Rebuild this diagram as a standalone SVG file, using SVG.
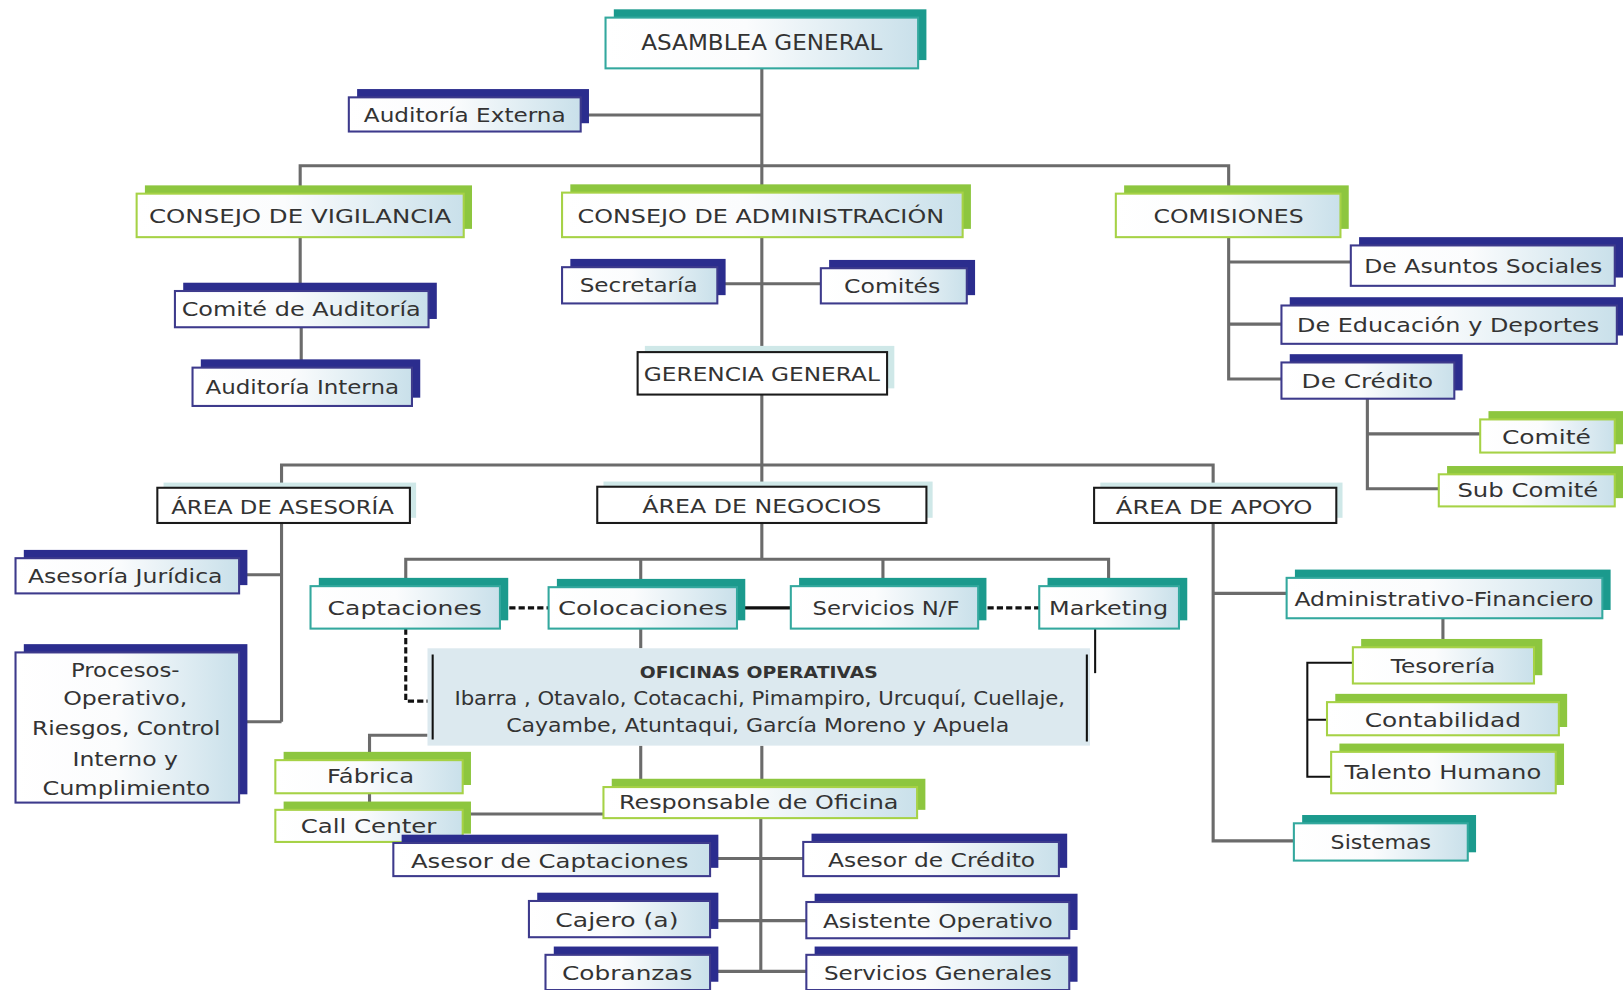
<svg xmlns="http://www.w3.org/2000/svg" width="1623" height="990" viewBox="0 0 1623 990">
<defs>
<linearGradient id="gf" x1="0" y1="0" x2="1" y2="0">
<stop offset="0" stop-color="#ffffff"/><stop offset="0.45" stop-color="#fbfcfd"/><stop offset="1" stop-color="#c9e0ea"/>
</linearGradient>
<style>
.sh-navy{fill:#2b2d8e}
.sh-green{fill:#8dc63f}
.sh-teal{fill:#1b9a8d}
.sh-area{fill:#cfe8e8}
.fr{fill:url(#gf);stroke-width:2}
.fr-navy{stroke:#3d3a8c}
.fr-green{stroke:#a6d246}
.fr-teal{stroke:#33a89e}
.fr-area{fill:#ffffff;stroke:#1a1a1a;stroke-width:2}
text{font-family:"DejaVu Sans","Liberation Sans",sans-serif;fill:#333333;text-anchor:middle;font-size:19px}
.big{font-size:20px}
.bold{font-weight:bold;font-size:16px}
.ln{fill:none;stroke:#6b6b6b;stroke-width:3}
.blk{fill:none;stroke:#111111;stroke-width:3}
.thin{fill:none;stroke:#111111;stroke-width:2}
.dash{fill:none;stroke:#111111;stroke-width:3;stroke-dasharray:6 3}
</style>
</defs>
<rect width="1623" height="990" fill="#ffffff"/>
<g transform="scale(1.0351,1.0356)">
<g id="connectors">
<path class="ln" d="M736 66 V186"/>
<path class="ln" d="M561 111 H736"/>
<path class="ln" d="M290 186 V160 H1187 V187"/>
<path class="ln" d="M290 229 V281 M291 316 V355"/>
<path class="ln" d="M736 229 V340 M693 274 H793"/>
<path class="ln" d="M736 381 V470 M272 471 V449 H1172 V471"/>
<path class="ln" d="M272 505 V697 M231 555 H272 M231 697 H272"/>
<path class="ln" d="M736 505 V540 M392 566 V540 H1071 V566 M619 540 V567 M853 540 V566"/>
<path class="ln" d="M1187 229 V366 H1238 M1187 253 H1305 M1187 313 H1238"/>
<path class="ln" d="M1321 385 V472 H1390 M1321 419 H1430"/>
<path class="ln" d="M1172 505 V812 H1250 M1172 573 H1243"/>
<path class="ln" d="M1394 597 V625"/>
<path class="thin" d="M1307 640 H1263 V750 H1286 M1263 695 H1282"/>
<path class="ln" d="M619 607 V626"/>
<path class="ln" d="M619 720 V760 M736 720 V760"/>
<path class="ln" d="M413 710 H357 V734 M357 766 V782"/>
<path class="ln" d="M447 786 H583"/>
<path class="ln" d="M735 790 V938"/>
<path class="ln" d="M686 829 H776 M686 889 H779 M686 938 H779"/>
<path class="thin" d="M1058 607 V650"/>
<path class="dash" d="M483 587 H530 M945 587 H1004 M392 607 V677 H418"/>
<path class="blk" d="M712 587 H764"/>
</g>

<g id="n-asamblea"><rect class="sh-teal" x="593" y="9" width="302" height="49"/><rect class="fr fr-teal" x="585" y="17" width="302" height="49"/><text class="big" x="736" y="48" textLength="233" lengthAdjust="spacingAndGlyphs">ASAMBLEA GENERAL</text></g>
<g id="n-auditoria-externa"><rect class="sh-navy" x="345" y="86" width="224" height="33"/><rect class="fr fr-navy" x="337" y="94" width="224" height="33"/><text x="449" y="118" textLength="195" lengthAdjust="spacingAndGlyphs">Auditoría Externa</text></g>
<g id="n-vigilancia"><rect class="sh-green" x="140" y="179" width="316" height="42"/><rect class="fr fr-green" x="132" y="187" width="316" height="42"/><text x="290" y="215" textLength="292" lengthAdjust="spacingAndGlyphs">CONSEJO DE VIGILANCIA</text></g>
<g id="n-administracion"><rect class="sh-green" x="551" y="178" width="387" height="43"/><rect class="fr fr-green" x="543" y="186" width="387" height="43"/><text x="735" y="215" textLength="354" lengthAdjust="spacingAndGlyphs">CONSEJO DE ADMINISTRACIÓN</text></g>
<g id="n-comisiones"><rect class="sh-green" x="1086" y="179" width="217" height="42"/><rect class="fr fr-green" x="1078" y="187" width="217" height="42"/><text x="1187" y="215" textLength="145" lengthAdjust="spacingAndGlyphs">COMISIONES</text></g>
<g id="n-comite-auditoria"><rect class="sh-navy" x="177" y="273" width="245" height="35"/><rect class="fr fr-navy" x="169" y="281" width="245" height="35"/><text x="291" y="305" textLength="231" lengthAdjust="spacingAndGlyphs">Comité de Auditoría</text></g>
<g id="n-auditoria-interna"><rect class="sh-navy" x="194" y="347" width="212" height="37"/><rect class="fr fr-navy" x="186" y="355" width="212" height="37"/><text x="292" y="380" textLength="187" lengthAdjust="spacingAndGlyphs">Auditoría Interna</text></g>
<g id="n-secretaria"><rect class="sh-navy" x="551" y="250" width="150" height="35"/><rect class="fr fr-navy" x="543" y="258" width="150" height="35"/><text x="617" y="282" textLength="114" lengthAdjust="spacingAndGlyphs">Secretaría</text></g>
<g id="n-comites"><rect class="sh-navy" x="801" y="251" width="141" height="34"/><rect class="fr fr-navy" x="793" y="259" width="141" height="34"/><text x="862" y="283" textLength="93" lengthAdjust="spacingAndGlyphs">Comités</text></g>
<g id="n-gerencia"><rect class="sh-area" x="623" y="334" width="241" height="41"/><rect class="fr-area" x="616" y="340" width="241" height="41"/><text x="736" y="368" textLength="228" lengthAdjust="spacingAndGlyphs">GERENCIA GENERAL</text></g>
<g id="n-area-asesoria"><rect class="sh-area" x="158" y="466" width="244" height="34"/><rect class="fr-area" x="152" y="471" width="244" height="34"/><text x="273" y="496" textLength="215" lengthAdjust="spacingAndGlyphs">ÁREA DE ASESORÍA</text></g>
<g id="n-area-negocios"><rect class="sh-area" x="583" y="465" width="318" height="35"/><rect class="fr-area" x="577" y="470" width="318" height="35"/><text x="736" y="495" textLength="231" lengthAdjust="spacingAndGlyphs">ÁREA DE NEGOCIOS</text></g>
<g id="n-area-apoyo"><rect class="sh-area" x="1063" y="466" width="234" height="34"/><rect class="fr-area" x="1057" y="471" width="234" height="34"/><text x="1173" y="496" textLength="190" lengthAdjust="spacingAndGlyphs">ÁREA DE APOYO</text></g>
<g id="n-asesoria-juridica"><rect class="sh-navy" x="23" y="531" width="216" height="34"/><rect class="fr fr-navy" x="15" y="539" width="216" height="34"/><text x="121" y="563" textLength="188" lengthAdjust="spacingAndGlyphs">Asesoría Jurídica</text></g>
<g id="n-procesos"><rect class="sh-navy" x="23" y="622" width="216" height="145"/><rect class="fr fr-navy" x="15" y="630" width="216" height="145"/>
<text x="121" y="654" textLength="105" lengthAdjust="spacingAndGlyphs">Procesos-</text>
<text x="121" y="681" textLength="120" lengthAdjust="spacingAndGlyphs">Operativo,</text>
<text x="122" y="710" textLength="182" lengthAdjust="spacingAndGlyphs">Riesgos, Control</text>
<text x="121" y="740" textLength="102" lengthAdjust="spacingAndGlyphs">Interno y</text>
<text x="122" y="768" textLength="162" lengthAdjust="spacingAndGlyphs">Cumplimiento</text></g>
<g id="n-captaciones"><rect class="sh-teal" x="308" y="558" width="183" height="41"/><rect class="fr fr-teal" x="300" y="566" width="183" height="41"/><text x="391" y="594" textLength="149" lengthAdjust="spacingAndGlyphs">Captaciones</text></g>
<g id="n-colocaciones"><rect class="sh-teal" x="538" y="559" width="182" height="40"/><rect class="fr fr-teal" x="530" y="567" width="182" height="40"/><text x="621" y="594" textLength="164" lengthAdjust="spacingAndGlyphs">Colocaciones</text></g>
<g id="n-servicios-nf"><rect class="sh-teal" x="772" y="558" width="181" height="41"/><rect class="fr fr-teal" x="764" y="566" width="181" height="41"/><text x="856" y="594" textLength="142" lengthAdjust="spacingAndGlyphs">Servicios N/F</text></g>
<g id="n-marketing"><rect class="sh-teal" x="1012" y="558" width="135" height="41"/><rect class="fr fr-teal" x="1004" y="566" width="135" height="41"/><text x="1071" y="594" textLength="115" lengthAdjust="spacingAndGlyphs">Marketing</text></g>
<g id="n-oficinas"><rect x="413" y="626" width="640" height="94" fill="#dce9ef"/>
<path class="thin" d="M418 632 V714 M1050 632 V716"/>
<text class="bold" x="733" y="655" textLength="230" lengthAdjust="spacingAndGlyphs">OFICINAS OPERATIVAS</text>
<text x="734" y="681" font-size="17" textLength="590" lengthAdjust="spacingAndGlyphs">Ibarra , Otavalo, Cotacachi, Pimampiro, Urcuquí, Cuellaje,</text>
<text x="732" y="707" font-size="17" textLength="486" lengthAdjust="spacingAndGlyphs">Cayambe, Atuntaqui, García Moreno y Apuela</text></g>
<g id="n-fabrica"><rect class="sh-green" x="274" y="726" width="181" height="32"/><rect class="fr fr-green" x="266" y="734" width="181" height="32"/><text x="358" y="756" textLength="84" lengthAdjust="spacingAndGlyphs">Fábrica</text></g>
<g id="n-call-center"><rect class="sh-green" x="274" y="774" width="181" height="31"/><rect class="fr fr-green" x="266" y="782" width="181" height="31"/><text x="356" y="804" textLength="131" lengthAdjust="spacingAndGlyphs">Call Center</text></g>
<g id="n-responsable"><rect class="sh-green" x="591" y="752" width="303" height="30"/><rect class="fr fr-green" x="583" y="760" width="303" height="30"/><text x="733" y="781" textLength="270" lengthAdjust="spacingAndGlyphs">Responsable de Oficina</text></g>
<g id="n-asesor-captaciones"><rect class="sh-navy" x="388" y="806" width="306" height="32"/><rect class="fr fr-navy" x="380" y="814" width="306" height="32"/><text x="531" y="838" textLength="268" lengthAdjust="spacingAndGlyphs">Asesor de Captaciones</text></g>
<g id="n-asesor-credito"><rect class="sh-navy" x="784" y="805" width="247" height="33"/><rect class="fr fr-navy" x="776" y="813" width="247" height="33"/><text x="900" y="837" textLength="200" lengthAdjust="spacingAndGlyphs">Asesor de Crédito</text></g>
<g id="n-cajero"><rect class="sh-navy" x="519" y="862" width="175" height="35"/><rect class="fr fr-navy" x="511" y="870" width="175" height="35"/><text x="596" y="895" textLength="119" lengthAdjust="spacingAndGlyphs">Cajero (a)</text></g>
<g id="n-cobranzas"><rect class="sh-navy" x="535" y="914" width="159" height="34"/><rect class="fr fr-navy" x="527" y="922" width="159" height="34"/><text x="606" y="946" textLength="126" lengthAdjust="spacingAndGlyphs">Cobranzas</text></g>
<g id="n-asistente"><rect class="sh-navy" x="787" y="863" width="254" height="35"/><rect class="fr fr-navy" x="779" y="871" width="254" height="35"/><text x="906" y="896" textLength="222" lengthAdjust="spacingAndGlyphs">Asistente Operativo</text></g>
<g id="n-servicios-generales"><rect class="sh-navy" x="787" y="914" width="254" height="34"/><rect class="fr fr-navy" x="779" y="922" width="254" height="34"/><text x="906" y="946" textLength="220" lengthAdjust="spacingAndGlyphs">Servicios Generales</text></g>
<g id="n-asuntos-sociales"><rect class="sh-navy" x="1313" y="229" width="255" height="39"/><rect class="fr fr-navy" x="1305" y="237" width="255" height="39"/><text x="1433" y="264" textLength="230" lengthAdjust="spacingAndGlyphs">De Asuntos Sociales</text></g>
<g id="n-educacion"><rect class="sh-navy" x="1246" y="287" width="324" height="37"/><rect class="fr fr-navy" x="1238" y="295" width="324" height="37"/><text x="1399" y="321" textLength="292" lengthAdjust="spacingAndGlyphs">De Educación y Deportes</text></g>
<g id="n-de-credito"><rect class="sh-navy" x="1246" y="342" width="167" height="35"/><rect class="fr fr-navy" x="1238" y="350" width="167" height="35"/><text x="1321" y="375" textLength="127" lengthAdjust="spacingAndGlyphs">De Crédito</text></g>
<g id="n-comite"><rect class="sh-green" x="1438" y="397" width="130" height="32"/><rect class="fr fr-green" x="1430" y="405" width="130" height="32"/><text x="1494" y="429" textLength="86" lengthAdjust="spacingAndGlyphs">Comité</text></g>
<g id="n-sub-comite"><rect class="sh-green" x="1398" y="450" width="170" height="31"/><rect class="fr fr-green" x="1390" y="458" width="170" height="31"/><text x="1476" y="480" textLength="136" lengthAdjust="spacingAndGlyphs">Sub Comité</text></g>
<g id="n-adm-fin"><rect class="sh-teal" x="1251" y="550" width="305" height="39"/><rect class="fr fr-teal" x="1243" y="558" width="305" height="39"/><text x="1395" y="585" textLength="289" lengthAdjust="spacingAndGlyphs">Administrativo-Financiero</text></g>
<g id="n-tesoreria"><rect class="sh-green" x="1315" y="617" width="175" height="35"/><rect class="fr fr-green" x="1307" y="625" width="175" height="35"/><text x="1394" y="650" textLength="101" lengthAdjust="spacingAndGlyphs">Tesorería</text></g>
<g id="n-contabilidad"><rect class="sh-green" x="1290" y="670" width="224" height="32"/><rect class="fr fr-green" x="1282" y="678" width="224" height="32"/><text x="1394" y="702" textLength="151" lengthAdjust="spacingAndGlyphs">Contabilidad</text></g>
<g id="n-talento"><rect class="sh-green" x="1294" y="718" width="217" height="40"/><rect class="fr fr-green" x="1286" y="726" width="217" height="40"/><text x="1394" y="752" textLength="190" lengthAdjust="spacingAndGlyphs">Talento Humano</text></g>
<g id="n-sistemas"><rect class="sh-teal" x="1258" y="787" width="168" height="36"/><rect class="fr fr-teal" x="1250" y="795" width="168" height="36"/><text x="1334" y="820" textLength="97" lengthAdjust="spacingAndGlyphs">Sistemas</text></g>
</g>
</svg>
